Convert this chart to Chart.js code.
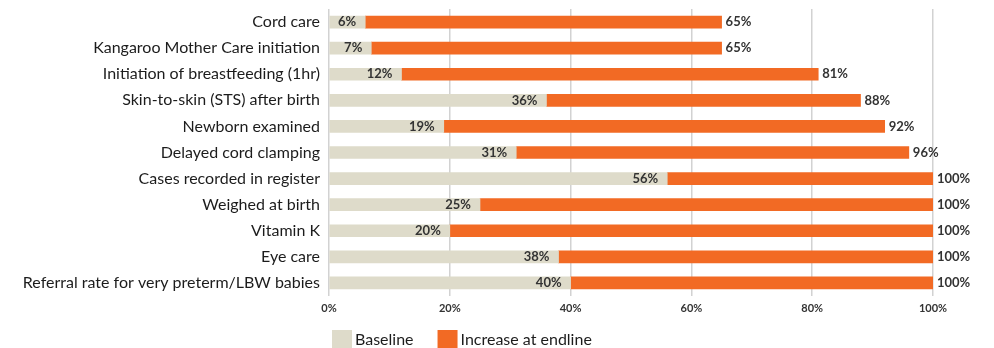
<!DOCTYPE html>
<html>
<head>
<meta charset="utf-8">
<script src="https://cdn.jsdelivr.net/npm/chart.js@4/dist/chart.umd.min.js"></script>
<style>
  html, body { margin: 0; padding: 0; background: #fff; }
  #wrap { width: 994px; height: 348px; }
</style>
</head>
<body>
<div id="wrap"><canvas id="chart" width="994" height="348"></canvas></div>
<script>
// categories, top to bottom
const categories = [
    'Cord care',
    'Kangaroo Mother Care initiation',
    'Initiation of breastfeeding (1hr)',
    'Skin-to-skin (STS) after birth',
    'Newborn examined',
    'Delayed cord clamping',
    'Cases recorded in register',
    'Weighed at birth',
    'Vitamin K',
    'Eye care',
    'Referral rate for very preterm/LBW babies'
];
const baseline = [6, 7, 12, 36, 19, 31, 56, 25, 20, 38, 40];
const endline = [65, 65, 81, 88, 92, 96, 100, 100, 100, 100, 100];
const xTicks = [0, 20, 40, 60, 80, 100];

// the orange segment is the gain from baseline to endline
const increase = endline.map((v, i) => v - baseline[i]);

const textColor = '#1c1c1c';
const font = 'Lato, "Open Sans", sans-serif';

// value labels: baseline at end of beige, endline after orange
const valueLabels = {
    id: 'valueLabels',
    afterDatasetsDraw(chart) {
        const ctx = chart.ctx;
        ctx.save();
        ctx.font = 'bold 13px ' + font;
        ctx.fillStyle = '#333';
        ctx.textBaseline = 'middle';
        chart.getDatasetMeta(0).data.forEach((bar, i) => {
            ctx.textAlign = 'right';
            ctx.fillText(baseline[i] + '%', bar.x - 9, bar.y);
        });
        chart.getDatasetMeta(1).data.forEach((bar, i) => {
            ctx.textAlign = 'left';
            ctx.fillText(endline[i] + '%', bar.x + 4, bar.y);
        });
        ctx.restore();
    }
};

// legend drawn under the plot, lined up with the left of the chart area
const bottomLegend = {
    id: 'bottomLegend',
    afterDraw(chart) {
        const ctx = chart.ctx;
        let x = chart.chartArea.left + 3;
        const y = 330;
        ctx.save();
        ctx.font = '16px ' + font;
        ctx.textBaseline = 'middle';
        ctx.textAlign = 'left';
        chart.data.datasets.forEach(ds => {
            ctx.fillStyle = ds.backgroundColor;
            ctx.fillRect(x, y, 20, 18);
            x += 23;
            ctx.fillStyle = textColor;
            ctx.fillText(ds.label, x, y + 10);
            x += ctx.measureText(ds.label).width + 24;
        });
        ctx.restore();
    }
};

const ctx = document.getElementById('chart').getContext('2d');
new Chart(ctx, {
    type: 'bar',
    data: {
        labels: categories,
        datasets: [{
            label: 'Baseline',
            data: baseline,
            backgroundColor: '#dedbca',
            barThickness: 12
        }, {
            label: 'Increase at endline',
            data: increase,
            backgroundColor: '#f26a24',
            barThickness: 12
        }]
    },
    options: {
        indexAxis: 'y',
        responsive: false,
        animation: false,
        layout: { padding: { top: 9, right: 61, bottom: 0, left: 0 } },
        scales: {
            x: {
                stacked: true,
                min: 0,
                max: 100,
                afterBuildTicks: scale => {
                    scale.ticks = xTicks.map(v => ({ value: v }));
                },
                afterFit: scale => { scale.height = 52; },
                grid: { color: '#d2d2d2', lineWidth: 1.5, drawTicks: false },
                border: { display: false },
                ticks: {
                    padding: 6,
                    color: '#333',
                    font: { family: font, size: 11, weight: 'bold' },
                    callback: v => v + '%'
                }
            },
            y: {
                stacked: true,
                afterFit: scale => {
                    scale.width = 329;
                    scale.paddingTop = 0;
                    scale.paddingBottom = 0;
                },
                grid: { display: false, drawTicks: false },
                border: { display: false },
                ticks: {
                    padding: 9,
                    color: textColor,
                    font: { family: font, size: 16 }
                }
            }
        },
        plugins: {
            legend: { display: false },
            tooltip: { enabled: false }
        }
    },
    plugins: [valueLabels, bottomLegend]
});
</script>
</body>
</html>
